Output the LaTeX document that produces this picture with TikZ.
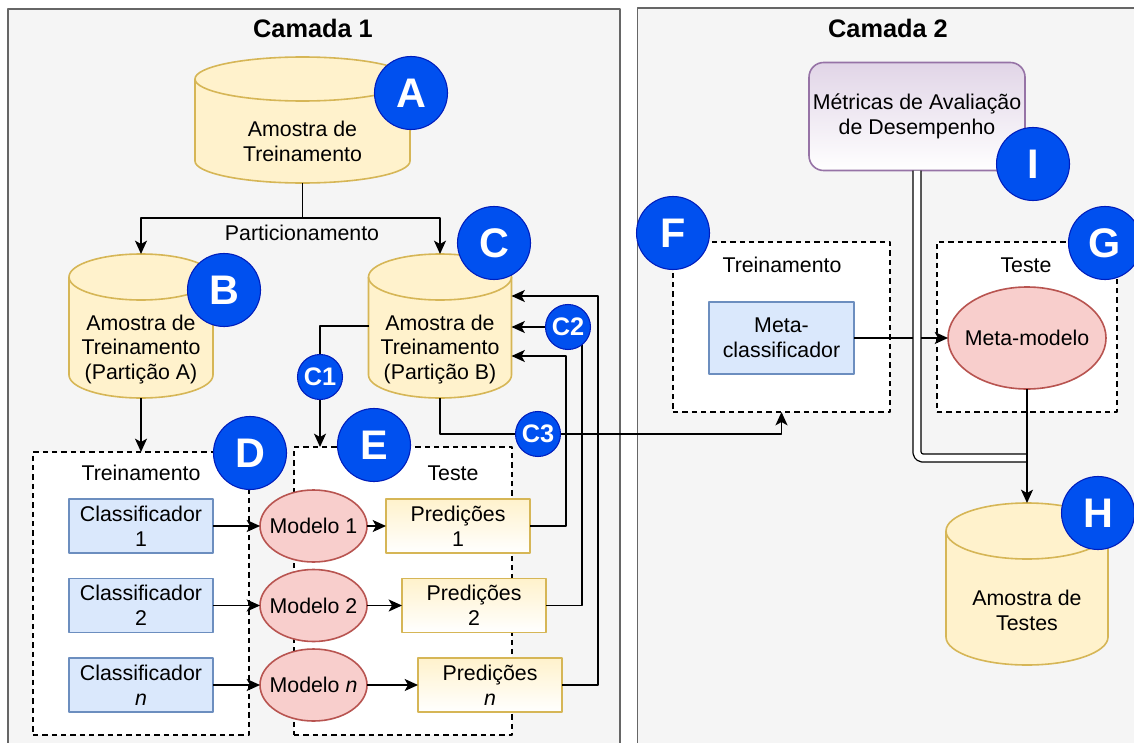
\documentclass[tikz,border=0pt]{standalone}
\usepackage{fontspec}
\setmainfont{Liberation Sans}
\usetikzlibrary{arrows.meta,shapes.geometric,calc}
\definecolor{panelfill}{HTML}{F5F5F5}
\definecolor{panelborder}{HTML}{666666}
\definecolor{cylfill}{HTML}{FFF2CC}
\definecolor{cylborder}{HTML}{D6B656}
\definecolor{bluefill}{HTML}{DAE8FC}
\definecolor{blueborder}{HTML}{6C8EBF}
\definecolor{redfill}{HTML}{F8CECC}
\definecolor{redborder}{HTML}{B85450}
\definecolor{badgefill}{HTML}{0050EF}
\definecolor{badgeborder}{HTML}{001DBC}
\definecolor{purfill}{HTML}{E1D5E7}
\definecolor{purborder}{HTML}{9673A6}
\newcommand\px[1]{(#1)*0.75pt}
\newcommand\mainsz{\fontsize{16}{18.7}\selectfont}
\newcommand\zb[1]{\makebox[0pt]{#1}}
\newcommand\cyl[6]{%
  \path[fill=cylfill,draw=cylborder,line width=1.2pt] (#2-#5,#3+#6) -- (#2-#5,#4-#6)
    arc[start angle=180,end angle=0,x radius=#5,y radius=#6] -- (#2+#5,#3+#6)
    arc[start angle=0,end angle=-180,x radius=#5,y radius=#6] -- cycle;
  \draw[draw=cylborder,line width=1.2pt] (#2-#5,#3+#6)
    arc[start angle=180,end angle=0,x radius=#5,y radius=#6];
  \node[minimum width=\px{2*#5},minimum height=\px{#4-#3}] (#1) at (#2,{(#3+#4)/2}) {};
}
\begin{document}
\begin{tikzpicture}[x=0.75pt,y=-0.75pt,line join=round,
  every node/.style={inner sep=0pt,outer sep=0pt,font=\mainsz,align=center},
  panel/.style={fill=panelfill,draw=panelborder,line width=1.2pt},
  dbox/.style={rectangle,draw=black,fill=white,line width=1pt,dash pattern=on 4pt off 3pt},
  clsbox/.style={rectangle,fill=bluefill,draw=blueborder,line width=1.2pt,minimum width=\px{144},minimum height=\px{54}},
  mdl/.style={ellipse,fill=redfill,draw=redborder,line width=1.2pt,minimum width=\px{107},minimum height=\px{72}},
  predbox/.style={rectangle,top color=cylfill,bottom color=white,draw=cylborder,line width=1.2pt,minimum width=\px{144},minimum height=\px{54}},
  badge/.style={circle,fill=badgefill,draw=badgeborder,line width=0.8pt,text=white,font=\fontsize{31}{31}\selectfont\bfseries,minimum size=\px{73}},
  sbadge/.style={circle,fill=badgefill,draw=badgeborder,line width=0.8pt,text=white,font=\fontsize{19}{19}\selectfont\bfseries,minimum size=\px{45}},
  title/.style={font=\fontsize{19}{19}\selectfont\bfseries},
  conn/.style={draw=black,line width=1.2pt},
  arr/.style={conn,-{Stealth[length=10pt,width=9pt,inset=2.5pt]}}]
\useasboundingbox (0,0) rectangle (1134,742);
\clip (0,0) rectangle (1134,742);
% panels
\draw[panel] (8,9) rectangle (620,760);
\draw[panel] (637.5,8) rectangle (1150,760);
\node[title] (t1) at (313,28) {Camada 1};
\node[title] (t2) at (888,28) {Camada 2};
% dashed boxes
\node[dbox,minimum width=\px{216},minimum height=\px{283}] (Dbox) at (141,593.5) {};
\node[dbox,minimum width=\px{218},minimum height=\px{288}] (Ebox) at (403,591) {};
\node[dbox,minimum width=\px{217},minimum height=\px{170}] (Fbox) at (781.5,327) {};
\node[dbox,minimum width=\px{180},minimum height=\px{170}] (Gbox) at (1027,327) {};
\node (Dlab) at (141,473) {Treinamento};
\node (Elab) at (453,473) {Teste};
\node (Flab) at (782,265) {Treinamento};
\node (Glab) at (1026,265) {Teste};
% cylinders
\cyl{A}{302.5}{57}{183}{107.5}{22}
\node (Atxt) at (302.5,141) {Amostra de\\Treinamento};
\cyl{B}{141}{254}{398}{72}{23}
\node (Btxt) at (141,349.5) {Amostra de\\Treinamento\\(Partição A)};
\cyl{C}{440}{254}{398}{71.5}{23}
\node (Ctxt) at (440,349.5) {Amostra de\\Treinamento\\(Partição B)};
\cyl{H}{1027}{503}{665}{81}{28}
\node (Htxt) at (1027,610.5) {Amostra de\\Testes};
% classifiers, models, predictions
\node[clsbox] (K1) at (141,526) {Classificador\\1};
\node[clsbox] (K2) at (141,605.5) {Classificador\\2};
\node[clsbox] (Kn) at (141,685) {Classificador\\\textit{n}};
\node[mdl] (M1) at (313.5,526) {\zb{Modelo 1}};
\node[mdl] (M2) at (313.5,605.5) {\zb{Modelo 2}};
\node[mdl] (Mn) at (313.5,685) {\zb{Modelo \textit{n}}};
\node[predbox] (P1) at (458,526) {Predições\\1};
\node[predbox] (P2) at (474,605.5) {Predições\\2};
\node[predbox] (Pn) at (490,685) {Predições\\\textit{n}};
% layer 2 nodes
\node[rectangle,rounded corners=11pt,top color=purfill,bottom color=white,draw=purborder,line width=1.2pt,minimum width=\px{216},minimum height=\px{108}] (Met) at (917,116.5) {Métricas de Avaliação\\de Desempenho};
\node[clsbox,minimum width=\px{145},minimum height=\px{72}] (MC) at (781.5,338) {Meta-\\classificador};
\node[mdl,minimum width=\px{158},minimum height=\px{102}] (MM) at (1027,338) {\zb{Meta-modelo}};
% connectors
\draw[arr] (A.south) -- ++(0,35) -| (B.north);
\draw[arr] (A.south) -- ++(0,35) -| (C.north);
\node (part) at (302,233) {Particionamento};
\draw[arr] (B.south) -- (B.south |- Dbox.north);
\draw[arr] (C.west) -| ($(Ebox.north west)+(26,0)$);
\draw[arr] (C.south) -- ++(0,36) -| (Fbox.south);
\foreach \i in {1,2,n}{
  \draw[arr] (K\i.east) -- (M\i.west);
  \draw[arr] (M\i.east) -- (P\i.west);
}
\draw[arr] (P1.east) -- ++(36,0) |- ($(C.east)+(0,30)$);
\draw[arr] (P2.east) -- ++(36,0) |- ($(C.east)+(0,1)$);
\draw[arr] (Pn.east) -- ++(36,0) |- ($(C.east)+(0,-30)$);
\draw[arr] (MC.east) -- (MM.west);
\draw[conn,line width=1pt,double=white,double distance=5pt,rounded corners=4pt] (Met.south) |- ($(MM.south)+(0,69)$);
\draw[arr] (MM.south) -- (H.north);
% badges
\node[badge] (bA) at (411,93) {A};
\node[badge] (bB) at (224,290) {B};
\node[badge] (bC) at (494,243) {C};
\node[badge] (bD) at (250,453) {D};
\node[badge] (bE) at (374,445) {E};
\node[badge] (bF) at (673,233) {F};
\node[badge] (bG) at (1105,243) {G};
\node[badge] (bH) at (1098,513) {H};
\node[badge] (bI) at (1033,164) {I};
\node[sbadge] (bC1) at (320,377) {C1};
\node[sbadge] (bC2) at (568,327) {C2};
\node[sbadge] (bC3) at (538,434) {C3};
\end{tikzpicture}
\end{document}
